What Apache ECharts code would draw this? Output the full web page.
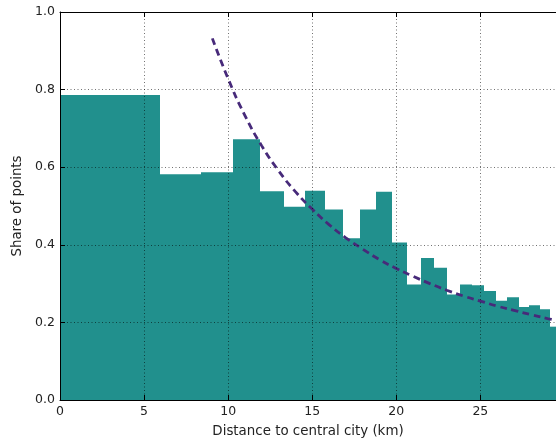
<!DOCTYPE html>
<html>
<head>
<meta charset="utf-8">
<script src="https://cdn.jsdelivr.net/npm/echarts@6/dist/echarts.min.js"></script>
<style>
html,body{margin:0;padding:0;background:#fff;}
#c{width:556px;height:444px;}
</style>
</head>
<body>
<div id="c"></div>
<script>
// Bin edges (km) and bar heights (share of points)
var binEdges = [0, 5.95, 8.41, 10.31, 11.9, 13.3, 14.57, 15.74, 16.83, 17.85, 18.82, 19.73, 20.61, 21.45, 22.26, 23.04, 23.8, 24.53, 25.24, 25.94, 26.61, 27.27, 27.91, 28.53, 29.15, 29.75];
var shares = [0.786, 0.582, 0.587, 0.672, 0.538, 0.498, 0.539, 0.491, 0.417, 0.491, 0.537, 0.406, 0.298, 0.366, 0.341, 0.272, 0.298, 0.2955, 0.281, 0.256, 0.265, 0.240, 0.244, 0.234, 0.189];
// Fitted curve points
var curveX = [9.06, 10, 11, 12, 13, 14, 15, 16, 17, 18, 19, 20, 21, 22, 23, 24, 25, 26, 27, 28, 29, 29.75];
var curveY = [0.932, 0.828, 0.733, 0.655, 0.591, 0.537, 0.492, 0.452, 0.418, 0.389, 0.362, 0.339, 0.319, 0.300, 0.283, 0.268, 0.255, 0.242, 0.231, 0.220, 0.210, 0.204];
var xTicks = [0, 5, 10, 15, 20, 25];
var yTicks = [0.0, 0.2, 0.4, 0.6, 0.8, 1.0];

var barData = [];
for (var i = 0; i < shares.length; i++) barData.push([binEdges[i], binEdges[i + 1], shares[i]]);
var curveData = curveX.map(function (x, i) { return [x, curveY[i]]; });

var font = 'DejaVu Sans';
var chart = echarts.init(document.getElementById('c'), null, {renderer: 'canvas'});
var gridLine = {show: true, lineStyle: {color: 'rgba(0,0,0,0.7)', width: 0.8, type: [1, 2.5]}};
chart.setOption({
  animation: false,
  backgroundColor: '#fff',
  grid: {left: 60, right: 0, top: 12, bottom: 44, containLabel: false, outerBoundsMode: 'none'},
  xAxis: [{
    type: 'value', min: 0, max: 29.5, interval: 5, position: 'bottom', z: 10,
    axisLine: {show: true, onZero: false, lineStyle: {color: '#000', width: 1}},
    axisTick: {show: true, inside: true, length: 5, lineStyle: {color: '#000'}},
    axisLabel: {color: '#222', fontFamily: font, fontSize: 12.5, margin: 5, showMaxLabel: false,
      formatter: function (v) { return xTicks.indexOf(v) >= 0 ? String(v) : ''; }},
    splitLine: gridLine,
    name: 'Distance to central city (km)', nameLocation: 'middle', nameGap: 25,
    nameTextStyle: {color: '#222', fontFamily: font, fontSize: 13.4}
  }, {
    type: 'value', min: 0, max: 29.5, interval: 5, position: 'top', z: 10,
    axisLine: {show: true, onZero: false, lineStyle: {color: '#000', width: 1}},
    axisTick: {show: true, inside: true, length: 5, lineStyle: {color: '#000'}},
    axisLabel: {show: false}, splitLine: {show: false}
  }],
  yAxis: [{
    type: 'value', min: 0, max: 1, interval: 0.2, z: 10,
    axisLine: {show: true, onZero: false, lineStyle: {color: '#000', width: 1}},
    axisTick: {show: true, inside: true, length: 5, lineStyle: {color: '#000'}},
    axisLabel: {color: '#222', fontFamily: font, fontSize: 12.5, margin: 5,
      formatter: function (v) { return v.toFixed(1); }},
    splitLine: gridLine,
    name: 'Share of points', nameLocation: 'middle', nameGap: 32, nameRotate: 90,
    nameTextStyle: {color: '#222', fontFamily: font, fontSize: 13.4}
  }],
  series: [{
    type: 'custom', xAxisIndex: 0, yAxisIndex: 0, z: 2, clip: true,
    data: barData,
    encode: {x: [0, 1], y: 2},
    renderItem: function (params, api) {
      var p0 = api.coord([api.value(0), api.value(2)]);
      var p1 = api.coord([api.value(1), 0]);
      var x0 = Math.round(p0[0]), x1 = Math.round(p1[0]);
      return {
        type: 'rect',
        shape: {x: x0, y: p0[1], width: x1 - x0, height: p1[1] - p0[1]},
        style: {fill: '#21908d', stroke: null}
      };
    }
  }, {
    type: 'line', xAxisIndex: 0, yAxisIndex: 0, z: 3,
    data: curveData, smooth: true, showSymbol: false,
    lineStyle: {color: '#472a7a', width: 2.8, type: [7, 4.5]}
  }]
});
</script>
</body>
</html>
